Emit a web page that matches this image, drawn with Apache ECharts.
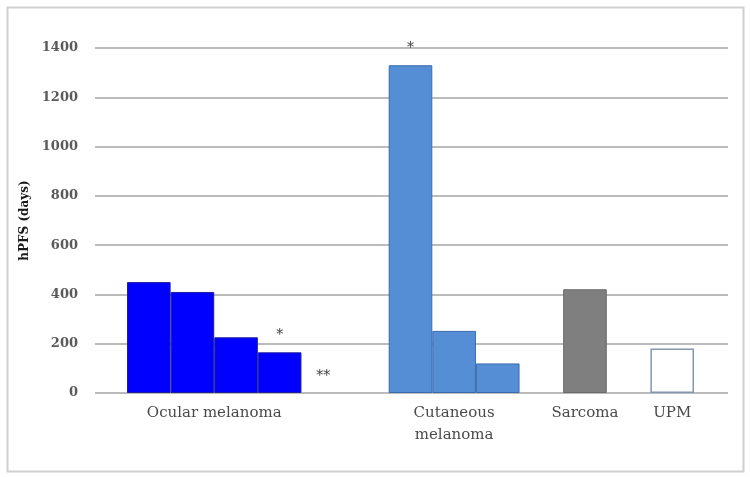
<!DOCTYPE html>
<html>
<head>
<meta charset="utf-8">
<script src="https://cdn.jsdelivr.net/npm/echarts@6/dist/echarts.min.js"></script>
<style>
html,body{margin:0;padding:0;background:#fff;}
#chart{width:750px;height:477px;}
</style>
</head>
<body>
<div id="chart"></div>
<script>
// Slots along the x axis (each bar takes one slot; empty slots are gaps)
const slotKeys = ['OM1','OM2','OM3','OM4','OM5','gap1','CM1','CM2','CM3','gap2','SAR','gap3','UPM'];
const hpfsDays = [450, 410, 226, 165, 0, null, 1330, 252, 120, null, 421, null, 181];
const marks    = ['', '', '', '*', '**', '', '*', '', '', '', '', '', ''];
const slotGroup = ['ocular','ocular','ocular','ocular','none','none','cutaneous','cutaneous','cutaneous','none','sarcoma','none','upm'];
// Group labels, placed on a half-slot axis (27 boundary points)
const groupLabels = ['Ocular melanoma', 'Cutaneous\nmelanoma', 'Sarcoma', 'UPM'];
const groupLabelAt = [4, 15, 21, 25];
const yTicks = [0, 200, 400, 600, 800, 1000, 1200, 1400];

const styles = {
  ocular:    {color: '#0000FF', borderColor: '#1E1E9E', borderWidth: 1},
  cutaneous: {color: '#558ED5', borderColor: '#3A6BAE', borderWidth: 1},
  sarcoma:   {color: '#7F7F7F', borderColor: '#6A6A6A', borderWidth: 1},
  upm:       {color: '#FFFFFF', borderColor: '#8497B0', borderWidth: 1.5},
  none:      {color: 'rgba(0,0,0,0)', borderWidth: 0}
};

const halfSlots = [];
for (let i = 0; i < 27; i++) {
  const k = groupLabelAt.indexOf(i);
  halfSlots.push(k >= 0 ? groupLabels[k] : ' ' + i);
}

const textFont = "'DejaVu Serif', serif";
const chart = echarts.init(document.getElementById('chart'), null, {renderer: 'canvas'});
chart.setOption({
  animation: false,
  backgroundColor: '#fff',
  graphic: [{
    type: 'rect', left: 5, top: 5, z: -10,
    shape: {width: 736, height: 464},
    style: {fill: 'none', stroke: '#D0D0D0', lineWidth: 2}
  }],
  grid: [
    {left: 127, right: 56, top: 48, bottom: 84},
    {left: 95, right: 22, top: 48, bottom: 84}
  ],
  xAxis: [
    {type: 'category', gridIndex: 0, data: slotKeys, boundaryGap: true,
     axisLine: {show: false}, axisTick: {show: false}, axisLabel: {show: false}},
    {type: 'category', gridIndex: 0, data: halfSlots, boundaryGap: false, position: 'bottom',
     axisLine: {show: false}, axisTick: {show: false},
     axisLabel: {interval: 0, margin: 9, fontFamily: textFont, fontSize: 15, color: '#4A4A4A', lineHeight: 22,
       formatter: v => (groupLabels.indexOf(v) >= 0 ? v : '')}},
    {type: 'value', gridIndex: 1, show: false, min: 0, max: 1}
  ],
  yAxis: [
    {type: 'value', gridIndex: 0, min: 0, max: 1400, interval: 200, show: false, splitLine: {show: false}},
    {type: 'value', gridIndex: 1, min: 0, max: 1400, interval: 200,
     name: 'hPFS (days)', nameLocation: 'middle', nameGap: 59,
     nameTextStyle: {fontFamily: textFont, fontWeight: 'bold', fontSize: 12, color: '#1A1A1A'},
     axisLine: {show: false}, axisTick: {show: false},
     axisLabel: {margin: 17, fontFamily: textFont, fontWeight: 'bold', fontSize: 13, color: '#5A5A5A',
       formatter: v => (yTicks.indexOf(v) >= 0 ? String(v) : '')},
     splitLine: {show: true, lineStyle: {color: '#BBBBBB', width: 2}}}
  ],
  series: [{
    type: 'bar', xAxisIndex: 0, yAxisIndex: 0,
    barWidth: '100%', barCategoryGap: 0,
    data: hpfsDays.map((v, i) => ({
      value: v,
      itemStyle: styles[slotGroup[i]],
      label: {show: marks[i] !== '', position: 'top', distance: 10, formatter: marks[i],
              fontFamily: textFont, fontSize: 14, color: '#404040'}
    }))
  }]
});
</script>
</body>
</html>
